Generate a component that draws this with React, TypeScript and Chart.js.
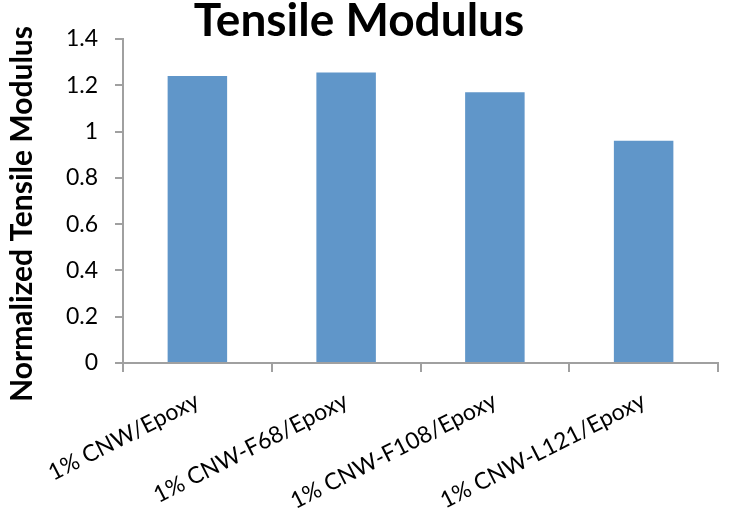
import React, { useEffect, useRef } from "react";
import { Chart, registerables } from "chart.js";

Chart.register(...registerables);

// Samples and their normalized tensile modulus
const categories = [
  "1% CNW/Epoxy",
  "1% CNW-F68/Epoxy",
  "1% CNW-F108/Epoxy",
  "1% CNW-L121/Epoxy",
];
const modulusValues = [1.24, 1.255, 1.17, 0.96];
const yTickValues = [0, 0.2, 0.4, 0.6, 0.8, 1, 1.2, 1.4];

const chartTitle = "Tensile Modulus";
const yAxisTitle = "Normalized Tensile Modulus";

const FONT = "Lato, 'Open Sans', sans-serif";
const AXIS_GRAY = "#a0a0a0";
const BAR_BLUE = "#6096c9";

// Draws the rotated y-axis title, centred on its own column
const yTitlePlugin = {
  id: "yTitle",
  afterDraw(chart: any) {
    const ctx = chart.ctx;
    ctx.save();
    ctx.translate(22, 214);
    ctx.rotate(-Math.PI / 2);
    ctx.font = `bold 30px ${FONT}`;
    ctx.fillStyle = "#000";
    ctx.textAlign = "center";
    ctx.textBaseline = "middle";
    ctx.fillText(yAxisTitle, 0, 0);
    ctx.restore();
  },
};

export default function App() {
  const canvasRef = useRef<HTMLCanvasElement | null>(null);

  useEffect(() => {
    const canvas = canvasRef.current;
    if (!canvas) return;
    const chart = new Chart(canvas, {
      type: "bar",
      data: {
        labels: categories,
        datasets: [
          {
            data: modulusValues,
            backgroundColor: BAR_BLUE,
            borderWidth: 0,
            barPercentage: 0.4,
            categoryPercentage: 1,
          },
        ],
      },
      options: {
        responsive: false,
        animation: false,
        layout: { padding: { left: 0, right: 29, top: 0, bottom: 0 } },
        plugins: {
          legend: { display: false },
          tooltip: { enabled: false },
          title: {
            display: true,
            text: chartTitle,
            color: "#000",
            font: { family: FONT, size: 46, weight: "bold", lineHeight: 35 / 46 },
            padding: { top: 4, bottom: 0 },
          },
        },
        scales: {
          x: {
            afterFit: (scale: any) => {
              scale.height = 149;
            },
            grid: {
              display: true,
              offset: true,
              drawOnChartArea: false,
              drawTicks: true,
              tickLength: 9,
              color: AXIS_GRAY,
              lineWidth: 2,
            },
            border: { display: true, color: AXIS_GRAY, width: 2 },
            ticks: {
              color: "#000",
              font: { family: FONT, size: 23 },
              maxRotation: 27,
              minRotation: 27,
              padding: 15,
              autoSkip: false,
            },
          },
          y: {
            min: 0,
            max: 1.4,
            afterFit: (scale: any) => {
              scale.width = 123;
            },
            afterBuildTicks: (scale: any) => {
              scale.ticks = yTickValues.map((v) => ({ value: v }));
            },
            grid: {
              display: true,
              drawOnChartArea: false,
              drawTicks: true,
              tickLength: 8,
              color: AXIS_GRAY,
              lineWidth: 2,
            },
            border: { display: true, color: AXIS_GRAY, width: 2 },
            ticks: {
              color: "#000",
              font: { family: FONT, size: 23 },
              padding: 17,
              callback: (v: any) => String(+Number(v).toFixed(1)),
            },
          },
        },
      },
      plugins: [yTitlePlugin],
    });
    return () => chart.destroy();
  }, []);

  return (
    <div style={{ position: "fixed", left: 0, top: 0, width: 747, height: 512, background: "#fff" }}>
      <canvas ref={canvasRef} width={747} height={512} />
    </div>
  );
}
